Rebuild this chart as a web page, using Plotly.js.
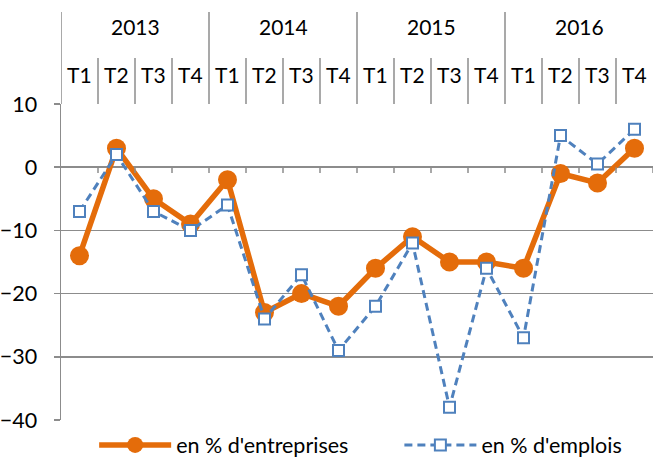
<!DOCTYPE html>
<html>
<head>
<meta charset="utf-8">
<script src="https://cdn.plot.ly/plotly-3.0.1.min.js"></script>
<style>html,body{margin:0;padding:0;background:#fff;}#chart{width:654px;height:462px;}</style>
</head>
<body>
<div id="chart"></div>
<script>
const years = ["2013", "2014", "2015", "2016"];
const quarters = ["T1", "T2", "T3", "T4"];
const entreprises = [-14, 3, -5, -9, -2, -23, -20, -22, -16, -11, -15, -15, -16, -1, -2.5, 3];
const emplois = [-7, 2, -7, -10, -6, -24, -17, -29, -22, -12, -38, -16, -27, 5, 0.5, 6];
const seriesNames = ["en % d'entreprises", "en % d'emplois"];

const n = years.length * quarters.length;
const xs = [];
for (let i = 0; i < n; i++) xs.push(i);

const FONT = "Lato, 'Open Sans', sans-serif";
const FS = 21;
const grid = "#8c8c8c";

const traces = [
  {
    x: xs, y: entreprises, name: seriesNames[0], type: "scatter", mode: "lines+markers",
    line: {color: "#E46C0A", width: 5.5},
    marker: {symbol: "circle", size: 19, color: "#E46C0A"},
    legend: "legend"
  },
  {
    x: xs, y: emplois, name: seriesNames[1], type: "scatter", mode: "lines+markers",
    line: {color: "#4F81BD", width: 3, dash: "8px,5px"},
    marker: {symbol: "square", size: 11, color: "#ffffff", line: {color: "#4F81BD", width: 2}},
    legend: "legend2"
  }
];

const shapes = [];
const annotations = [];
const topYear = 1.291, topQ = 1.1456;
const qLabelY = 1.0949, yLabelY = 1.2437;
for (let i = 0; i < n; i++) {
  const qi = i % quarters.length;
  annotations.push({x: i, y: qLabelY, xref: "x", yref: "paper", text: quarters[qi],
    showarrow: false, font: {family: FONT, size: FS, color: "#000"}, xanchor: "center", yanchor: "middle"});
  if (i > 0) {
    const isYear = qi === 0;
    shapes.push({type: "line", xref: "x", yref: "paper", x0: i - 0.5, x1: i - 0.5,
      y0: 1, y1: isYear ? topYear : topQ, line: {color: grid, width: 1.5}});
  }
  shapes.push({type: "line", xref: "x", yref: "y", x0: i + 0.5, x1: i + 0.5, y0: 0, y1: -0.9,
    line: {color: grid, width: 1.5}});
}
shapes.push({type: "line", xref: "x", yref: "paper", x0: -0.5, x1: -0.5, y0: 1, y1: topYear, line: {color: grid, width: 1.5}});
years.forEach((yr, k) => {
  annotations.push({x: k * quarters.length + (quarters.length - 1) / 2, y: yLabelY, xref: "x", yref: "paper",
    text: yr, showarrow: false, font: {family: FONT, size: FS, color: "#000"}, xanchor: "center", yanchor: "middle"});
});

const legendBase = {orientation: "h", xanchor: "left", y: -0.079, yanchor: "middle",
  font: {family: FONT, size: 21.5, color: "#000"}, itemwidth: 72, bgcolor: "rgba(0,0,0,0)"};

const layout = {
  width: 654, height: 462,
  margin: {l: 61, r: 1, t: 104, b: 42, autoexpand: false},
  paper_bgcolor: "#fff", plot_bgcolor: "#fff",
  font: {family: FONT, size: FS, color: "#000"},
  showlegend: true,
  legend: Object.assign({}, legendBase, {x: 0.056}),
  legend2: Object.assign({}, legendBase, {x: 0.5716}),
  xaxis: {range: [-0.5, n - 0.5], showgrid: false, zeroline: false, showticklabels: false,
    ticks: "", showline: false, fixedrange: true},
  yaxis: {range: [-40, 10], dtick: 10, tick0: 0, showgrid: true, gridcolor: grid, gridwidth: 1.5,
    zeroline: false, showline: true, linecolor: grid, linewidth: 1.5, ticks: "outside", ticklen: 6,
    tickcolor: grid, tickwidth: 1.5, tickfont: {family: FONT, size: 21.5, color: "#000"}, ticklabelstandoff: 12,
    automargin: false},
  shapes: shapes,
  annotations: annotations
};

Plotly.newPlot("chart", traces, layout, {displayModeBar: false, staticPlot: true});
</script>
</body>
</html>
